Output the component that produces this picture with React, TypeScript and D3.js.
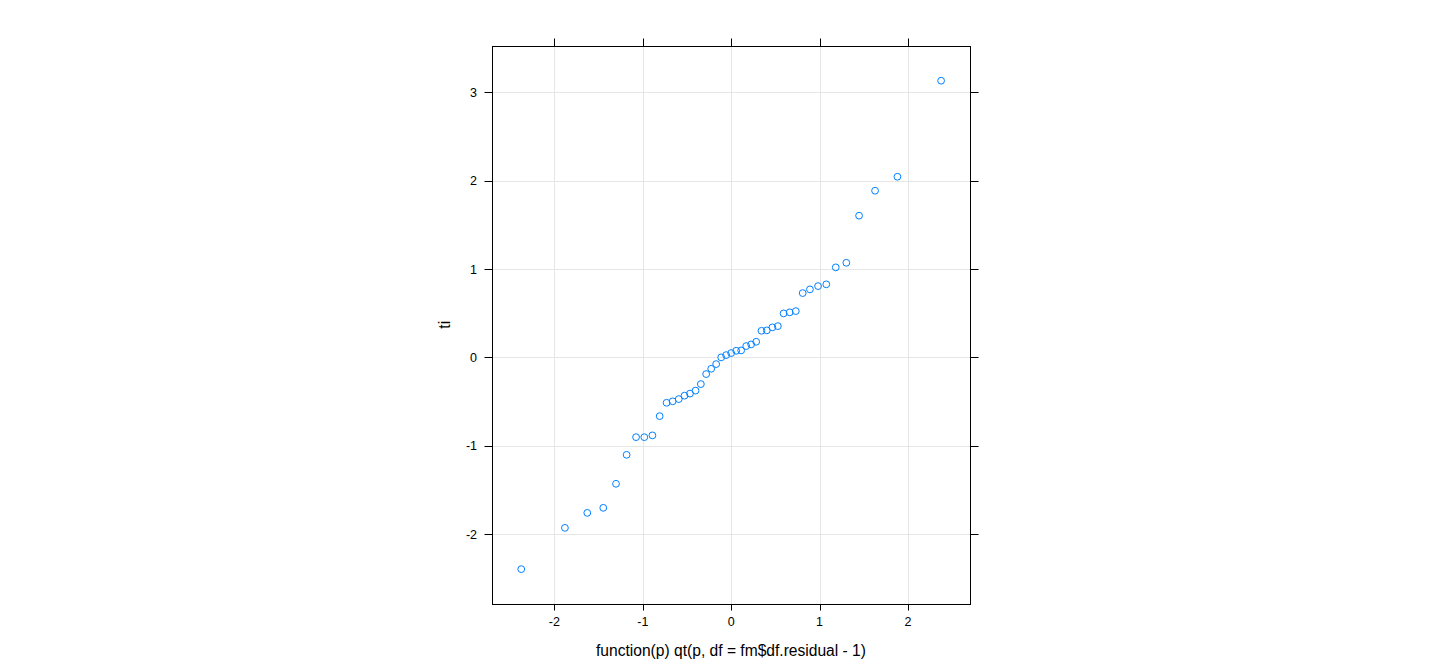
import React from "react";
import * as d3 from "d3";

// Theoretical t quantiles (x) and studentized residuals (y)
const quantiles: number[] = [
  -2.375, -1.881, -1.628, -1.447, -1.303, -1.183, -1.076, -0.983, -0.891, -0.809,
  -0.731, -0.662, -0.593, -0.528, -0.466, -0.403, -0.343, -0.283, -0.226, -0.17,
  -0.113, -0.057, 0, 0.057, 0.113, 0.17, 0.226, 0.283, 0.343, 0.403,
  0.466, 0.528, 0.593, 0.662, 0.731, 0.809, 0.891, 0.983, 1.076, 1.183,
  1.303, 1.447, 1.628, 1.881, 2.375,
];
const residuals: number[] = [
  -2.397, -1.93, -1.76, -1.703, -1.431, -1.103, -0.903, -0.903, -0.883, -0.665,
  -0.514, -0.497, -0.472, -0.433, -0.41, -0.376, -0.302, -0.189, -0.129, -0.076,
  0.0, 0.026, 0.049, 0.075, 0.079, 0.128, 0.147, 0.177, 0.301, 0.306,
  0.34, 0.354, 0.498, 0.51, 0.524, 0.728, 0.77, 0.807, 0.827, 1.019,
  1.071, 1.604, 1.887, 2.045, 3.132,
];
const xTicks: number[] = [-2, -1, 0, 1, 2];
const yTicks: number[] = [-2, -1, 0, 1, 2, 3];
const xLabel = "function(p) qt(p, df = fm$df.residual - 1)";
const yLabel = "ti";

const FONT = "'Liberation Sans', Arial, Helvetica, sans-serif";

export default function App() {
  const left = 492, right = 970, top = 46, bottom = 603.5;
  const x = d3.scaleLinear().domain([-2.706, 2.702]).range([left, right]);
  const y = d3.scaleLinear().domain([-2.786, 3.525]).range([bottom, top]);
  const px = (v: number) => Math.round(x(v)) + 0.5;
  const py = (v: number) => Math.round(y(v)) + 0.5;
  const L = Math.round(left) + 0.5, R = Math.round(right) + 0.5;
  const T = Math.round(top) + 0.5, B = Math.round(bottom) + 0.5;

  return (
    <svg
      width={1440}
      height={672}
      style={{ position: "absolute", left: 0, top: 0, display: "block", background: "#fff" }}
    >
      {/* grid */}
      <g stroke="#e6e6e6" strokeWidth={1}>
        {xTicks.map((t) => (
          <line key={"gx" + t} x1={px(t)} x2={px(t)} y1={T} y2={B} />
        ))}
        {yTicks.map((t) => (
          <line key={"gy" + t} x1={L} x2={R} y1={py(t)} y2={py(t)} />
        ))}
      </g>
      {/* points */}
      <g fill="none" stroke="#0080ff" strokeWidth={1}>
        {quantiles.map((q, i) => (
          <circle key={i} cx={x(q)} cy={y(residuals[i])} r={3.4} />
        ))}
      </g>
      {/* box */}
      <rect x={L} y={T} width={R - L} height={B - T} fill="none" stroke="#000" strokeWidth={1} />
      {/* ticks */}
      <g stroke="#000" strokeWidth={1}>
        {xTicks.map((t) => (
          <g key={"tx" + t}>
            <line x1={px(t)} x2={px(t)} y1={B} y2={B + 6} />
            <line x1={px(t)} x2={px(t)} y1={T} y2={T - 8} />
          </g>
        ))}
        {yTicks.map((t) => (
          <g key={"ty" + t}>
            <line x1={L} x2={L - 8} y1={py(t)} y2={py(t)} />
            <line x1={R} x2={R + 8} y1={py(t)} y2={py(t)} />
          </g>
        ))}
      </g>
      {/* tick labels */}
      <g fontFamily={FONT} fontSize={12.5} fill="#000">
        {xTicks.map((t) => (
          <text key={"lx" + t} x={x(t)} y={626} textAnchor="middle">
            {String(t)}
          </text>
        ))}
        {yTicks.map((t) => (
          <text key={"ly" + t} x={477} y={y(t) + 4.5} textAnchor="end">
            {String(t)}
          </text>
        ))}
      </g>
      {/* axis titles */}
      <text
        x={(left + right) / 2}
        y={656}
        textAnchor="middle"
        fontFamily={FONT}
        fontSize={15.6}
        fill="#000"
      >
        {xLabel}
      </text>
      <text
        transform={`translate(${450},${(top + bottom) / 2}) rotate(-90)`}
        textAnchor="middle"
        fontFamily={FONT}
        fontSize={15.6}
        fill="#000"
      >
        {yLabel}
      </text>
    </svg>
  );
}
